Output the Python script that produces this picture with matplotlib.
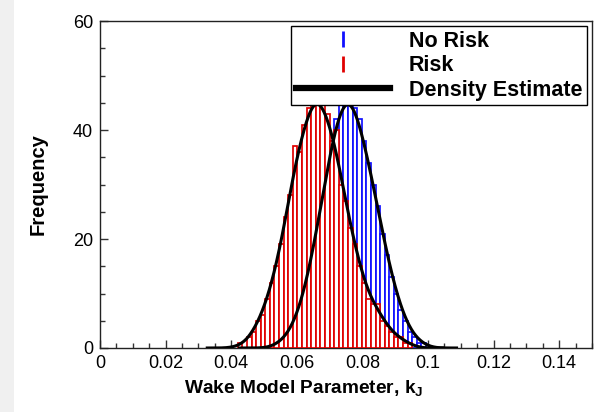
import numpy as np
import matplotlib
matplotlib.use("Agg")
import matplotlib.pyplot as plt
from matplotlib.lines import Line2D
from matplotlib.patches import Rectangle
from matplotlib.ticker import MultipleLocator, FuncFormatter

plt.rcParams['font.family'] = ['Liberation Sans', 'DejaVu Sans']
plt.rcParams['mathtext.fontset'] = 'custom'
plt.rcParams['mathtext.rm'] = 'Liberation Sans:bold'

# histogram bins
bin_width = 0.0014
first_edge = 0.0420

# Risk (red) counts, starting at first_edge
risk_counts = [1, 0, 2, 3, 5, 6, 9, 12, 15, 19, 24, 28, 37, 36, 41, 44, 47, 48, 45,
               43, 38, 40, 30, 27, 22, 19, 15, 12, 9, 8, 8, 5, 4, 3, 2, 2, 1, 1]
# No Risk (blue) counts, starting 7 bins later
norisk_offset = 7
norisk_counts = [0, 1, 1, 2, 3, 5, 7, 10, 14, 18, 23, 28, 33, 38, 42, 45, 47, 48,
                 44, 42, 38, 34, 30, 26, 21, 17, 13, 10, 7, 5, 3, 2, 1, 1]

xticks = [0, 0.02, 0.04, 0.06, 0.08, 0.1, 0.12, 0.14]
yticks = [0, 20, 40, 60]
kde_bandwidth = 0.0025

risk_left = first_edge + bin_width * np.arange(len(risk_counts))
norisk_left = first_edge + bin_width * (norisk_offset + np.arange(len(norisk_counts)))

fig = plt.figure(figsize=(5.96, 4.12), dpi=100)
fig.patches.append(Rectangle((0, 0), 14 / 596, 1, transform=fig.transFigure,
                             facecolor='#f0f0f0', edgecolor='none', zorder=-1))
ax = fig.add_axes([100 / 596, 64 / 412, 492 / 596, 327 / 412])

ax.bar(norisk_left, norisk_counts, width=bin_width, align='edge',
       facecolor='white', edgecolor='#1010ff', linewidth=1.25, zorder=2)
ax.bar(risk_left, risk_counts, width=bin_width, align='edge',
       facecolor='white', edgecolor='#e00000', linewidth=1.25, zorder=3)


def density_line(left, counts):
    # gaussian kernel density of the binned data, scaled to counts
    centers = left + bin_width / 2
    w = np.asarray(counts, float)
    xs = np.linspace(centers[0] - 0.01, centers[-1] + 0.01, 400)
    k = np.exp(-(xs[:, None] - centers[None, :]) ** 2 / (2 * kde_bandwidth ** 2))
    ys = (k * w).sum(axis=1) * bin_width / (kde_bandwidth * np.sqrt(2 * np.pi))
    return xs, ys


for left, counts in [(risk_left, risk_counts), (norisk_left, norisk_counts)]:
    xs, ys = density_line(left, counts)
    ax.plot(xs, ys, color='black', linewidth=2.2, zorder=4)

ax.set_xlim(0, 0.15)
ax.set_ylim(0, 60)
ax.set_xticks(xticks)
ax.set_yticks(yticks)
ax.xaxis.set_minor_locator(MultipleLocator(0.005))
ax.yaxis.set_minor_locator(MultipleLocator(5))
ax.xaxis.set_major_formatter(FuncFormatter(lambda v, p: ('%g' % round(v, 3))))
ax.tick_params(which='both', direction='in', top=False, right=False,
               labelsize=13, width=1.0, color='#333333')
ax.tick_params(which='major', length=6, pad=5)
ax.tick_params(which='minor', length=3.5)
for s in ax.spines.values():
    s.set_linewidth(1.0)
    s.set_color('#222222')

ax.set_xlabel('Wake Model Parameter, k$_\\mathrm{J}$', fontsize=13.8, fontweight='bold')
ax.xaxis.set_label_coords(0.415, -0.095)
ax.set_ylabel('Frequency', fontsize=14.5, fontweight='bold')
ax.yaxis.set_label_coords(-0.107, 0.5)

handles = [
    Line2D([], [], color='#1010ff', marker='|', linestyle='none', markersize=12, markeredgewidth=2),
    Line2D([], [], color='#e00000', marker='|', linestyle='none', markersize=12, markeredgewidth=2),
    Line2D([], [], color='black', linewidth=4.5, solid_capstyle='projecting'),
]
leg = ax.legend(handles, ['No Risk', 'Risk', 'Density Estimate'],
                loc='upper right', bbox_to_anchor=(0.99, 0.985), borderaxespad=0,
                prop={'weight': 'bold', 'size': 15.5}, frameon=True, fancybox=False,
                edgecolor='black', framealpha=1, handlelength=4.37, handletextpad=0.88,
                borderpad=0.22, labelspacing=0.16, handleheight=0.7)
leg.get_frame().set_linewidth(1.0)
leg.set_zorder(5)

fig.savefig('out.png', dpi=100)
